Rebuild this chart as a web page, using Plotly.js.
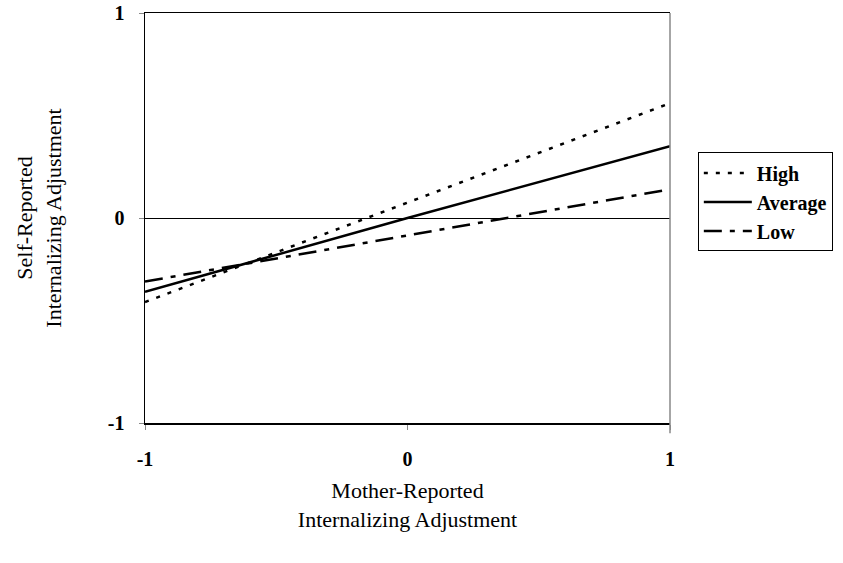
<!DOCTYPE html>
<html>
<head>
<meta charset="utf-8">
<script src="https://cdn.plot.ly/plotly-3.0.1.min.js"></script>
<style>html,body{margin:0;padding:0;background:#fff;}#chart{width:843px;height:563px;}</style>
</head>
<body>
<div id="chart"></div>
<script>
const xValues = [-1, 0, 1];
const highValues = [-0.41, 0.075, 0.56];
const averageValues = [-0.36, 0.0, 0.35];
const lowValues = [-0.31, -0.085, 0.14];
const seriesNames = ["High", "Average", "Low"];
const tickVals = [-1, 0, 1];
const tickText = ["-1", "0", "1"];

const font = "Times New Roman, Liberation Serif, serif";

const traces = [
  {x: xValues, y: highValues, name: seriesNames[0], mode: "lines",
   line: {color: "#000", width: 2.5, dash: "4px,8px"}},
  {x: xValues, y: averageValues, name: seriesNames[1], mode: "lines",
   line: {color: "#000", width: 2.5, dash: "solid"}},
  {x: xValues, y: lowValues, name: seriesNames[2], mode: "lines",
   line: {color: "#000", width: 2.5, dash: "18px,8px,5px,8px"}}
];

const layout = {
  width: 843, height: 563,
  margin: {l: 145, r: 173, t: 13, b: 140, autoexpand: false},
  paper_bgcolor: "#fff", plot_bgcolor: "#fff",
  font: {family: font, color: "#000"},
  showlegend: true,
  legend: {
    x: 1.053, y: 0.66, xanchor: "left", yanchor: "top",
    bordercolor: "#000", borderwidth: 1,
    font: {family: font, size: 20, color: "#000", weight: "bold"},
    itemwidth: 48,
    tracegroupgap: 0
  },
  xaxis: {
    range: [-1, 1], tickvals: tickVals, ticktext: tickText,
    showgrid: false, zeroline: false,
    showline: true, linecolor: "#000", linewidth: 1.5, mirror: true,
    ticks: "outside", ticklen: 5, tickcolor: "#888",
    ticklabelstandoff: 12,
    tickfont: {family: font, size: 20, color: "#000", weight: "bold"},
    title: {text: "Mother-Reported<br>Internalizing Adjustment", standoff: 14,
            font: {family: font, size: 22, color: "#000"}}
  },
  yaxis: {
    range: [-1, 1], tickvals: tickVals, ticktext: tickText,
    showgrid: false, zeroline: true, zerolinecolor: "#000", zerolinewidth: 1,
    showline: true, linecolor: "#000", linewidth: 1.5, mirror: false,
    ticks: "outside", ticklen: 5, tickcolor: "#888",
    ticklabelstandoff: 10,
    tickfont: {family: font, size: 20, color: "#000", weight: "bold"},
    title: {text: "Self-Reported<br>Internalizing Adjustment", standoff: 40,
            font: {family: font, size: 22, color: "#000"}}
  },
  shapes: [
    {type: "line", xref: "paper", yref: "paper", x0: 1, x1: 1, y0: -0.025, y1: 1,
     line: {color: "#888", width: 1.5}}
  ]
};

Plotly.newPlot("chart", traces, layout, {displayModeBar: false, staticPlot: true});
</script>
</body>
</html>
